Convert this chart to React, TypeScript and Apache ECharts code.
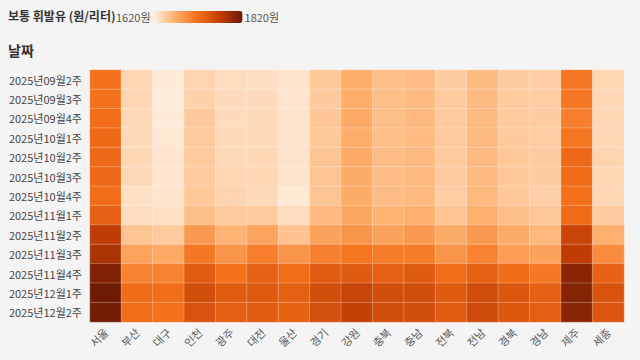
import React, { useEffect, useRef } from "react";
import * as echarts from "echarts";

const regions = ["서울", "부산", "대구", "인천", "광주", "대전", "울산", "경기", "강원", "충북", "충남", "전북", "전남", "경북", "경남", "제주", "세종"];
const weeks = [
  "2025년09월2주", "2025년09월3주", "2025년09월4주", "2025년10월1주", "2025년10월2주",
  "2025년10월3주", "2025년10월4주", "2025년11월1주", "2025년11월2주", "2025년11월3주",
  "2025년11월4주", "2025년12월1주", "2025년12월2주",
];
// prices per region, one value per week (원/리터)
const seoul = [1718, 1718, 1723, 1726, 1727, 1727, 1723, 1735, 1771, 1783, 1808, 1818, 1816];
const busan = [1642, 1642, 1640, 1640, 1641, 1640, 1635, 1637, 1654, 1678, 1705, 1724, 1723];
const daegu = [1628, 1627, 1628, 1629, 1631, 1631, 1632, 1635, 1650, 1673, 1705, 1723, 1720];
const incheon = [1644, 1645, 1651, 1650, 1650, 1650, 1652, 1659, 1686, 1713, 1740, 1753, 1747];
const gwangju = [1637, 1638, 1638, 1639, 1640, 1642, 1643, 1650, 1666, 1690, 1720, 1740, 1737];
const daejeon = [1636, 1638, 1640, 1639, 1641, 1642, 1640, 1650, 1678, 1709, 1734, 1742, 1740];
const ulsan = [1633, 1631, 1633, 1632, 1633, 1633, 1629, 1637, 1655, 1690, 1723, 1736, 1733];
const gyeonggi = [1652, 1651, 1653, 1652, 1654, 1654, 1654, 1662, 1680, 1707, 1740, 1753, 1752];
const gangwon = [1670, 1671, 1673, 1671, 1673, 1672, 1672, 1676, 1690, 1716, 1741, 1763, 1767];
const chungbuk = [1659, 1659, 1659, 1659, 1660, 1660, 1660, 1666, 1680, 1710, 1736, 1753, 1754];
const chungnam = [1660, 1661, 1662, 1661, 1662, 1662, 1662, 1669, 1686, 1710, 1741, 1754, 1754];
const jeonbuk = [1649, 1650, 1650, 1650, 1650, 1650, 1648, 1654, 1672, 1690, 1723, 1741, 1740];
const jeonnam = [1661, 1661, 1661, 1662, 1662, 1662, 1663, 1669, 1686, 1705, 1735, 1755, 1757];
const gyeongbuk = [1649, 1650, 1650, 1651, 1652, 1652, 1652, 1659, 1672, 1683, 1724, 1745, 1744];
const gyeongnam = [1647, 1648, 1649, 1648, 1649, 1649, 1646, 1652, 1663, 1679, 1713, 1736, 1738];
const jeju = [1714, 1714, 1709, 1716, 1727, 1724, 1720, 1725, 1763, 1771, 1803, 1806, 1804];
const sejong = [1642, 1641, 1641, 1641, 1643, 1641, 1641, 1650, 1669, 1698, 1734, 1747, 1745];

const columns = [seoul, busan, daegu, incheon, gwangju, daejeon, ulsan, gyeonggi, gangwon, chungbuk, chungnam, jeonbuk, jeonnam, gyeongbuk, gyeongnam, jeju, sejong];
const minPrice = 1620;
const maxPrice = 1820;

const FONT = "'Noto Sans CJK KR', 'Noto Sans', sans-serif";

export default function App() {
  const ref = useRef<HTMLDivElement>(null);
  useEffect(() => {
    if (!ref.current) return;
    const chart = echarts.init(ref.current, null, { renderer: "svg" });
    const data: [number, number, number][] = [];
    columns.forEach((col, xi) => col.forEach((v, yi) => data.push([xi, yi, v])));
    chart.setOption({
      animation: false,
      backgroundColor: "#f4f4f4",
      textStyle: { fontFamily: FONT },
      title: {
        text: "보통 휘발유 (원/리터)",
        left: 8,
        top: 9,
        padding: 0,
        textStyle: { fontSize: 12, fontWeight: "bold", color: "#333", fontFamily: FONT },
      },
      graphic: [
        {
          type: "text",
          left: 8,
          top: 43,
          style: { text: "날짜", fontSize: 14, fontWeight: "bold", fill: "#333", fontFamily: FONT },
        },
      ],
      grid: { left: 90, right: 16, top: 70, bottom: 38 },
      xAxis: {
        type: "category",
        data: regions,
        axisLine: { show: false },
        axisTick: { show: false },
        splitArea: { show: false },
        axisLabel: { rotate: 45, color: "#555", fontSize: 11, margin: 8, fontFamily: FONT },
      },
      yAxis: {
        type: "category",
        data: weeks,
        inverse: true,
        axisLine: { show: false },
        axisTick: { show: false },
        axisLabel: { color: "#444", fontSize: 11, margin: 8, fontFamily: FONT },
      },
      visualMap: {
        type: "continuous",
        min: minPrice,
        max: maxPrice,
        orient: "horizontal",
        left: 101,
        top: -4,
        itemWidth: 12,
        itemHeight: 90,
        calculable: false,
        text: ["1820원", "1620원"],
        textGap: 2,
        textStyle: { color: "#555", fontSize: 11, fontFamily: FONT },
        inRange: { color: ["#fff5eb", "#fdae6b", "#f4701a", "#c13d04", "#6b1a04"] },
      },
      series: [
        {
          type: "heatmap",
          data,
          itemStyle: { borderColor: "rgba(255,255,255,0.25)", borderWidth: 1 },
          emphasis: { disabled: true },
        },
      ],
    });
    return () => chart.dispose();
  }, []);
  return <div ref={ref} style={{ position: "fixed", left: 0, top: 0, width: 640, height: 360 }} />;
}
